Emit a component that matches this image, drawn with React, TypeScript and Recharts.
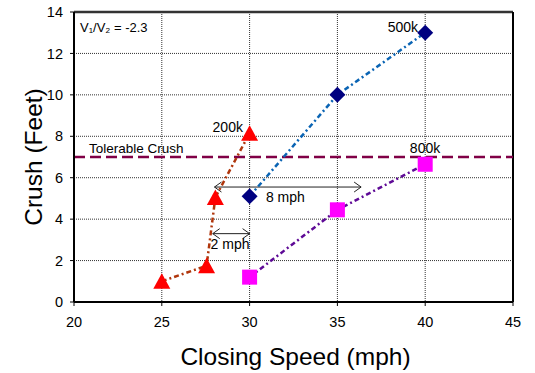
// Crush vs closing speed: three mass curves, tolerable crush line, speed-gap arrows
import {
  ComposedChart,
  Scatter,
  XAxis,
  YAxis,
  CartesianGrid,
  ReferenceLine,
  ReferenceDot,
} from 'recharts';

const xTicks = [20, 25, 30, 35, 40, 45];
const yTicks = [0, 2, 4, 6, 8, 10, 12, 14];

const speed200k = [25, 27.55, 28.05, 30];
const crush200k = [1.0, 1.75, 5.05, 8.15];
const speed500k = [30, 35, 40];
const crush500k = [5.1, 10, 13];
const speed800k = [30, 35, 40];
const crush800k = [1.2, 4.45, 6.65];

const tolerableCrush = 7;

// speed-gap arrows: [from, to, at crush]
const arrowFrom = [28, 27.9];
const arrowTo = [36.35, 30];
const arrowAt = [5.55, 3.3];

const noteText = ['200k', '500k', '800k', 'Tolerable Crush', 'V₁/V₂ = -2.3', '8 mph', '2 mph'];
const noteX = [29.62, 39.59, 39.99, 20.85, 20.34, 30.93, 27.78];
const noteY = [8.45, 13.29, 7.44, 7.39, 13.23, 5.08, 2.8];
const noteAnchor = ['end', 'end', 'middle', 'start', 'start', 'start', 'start'];
const noteSize = [14, 14, 14, 13.5, 13, 14, 14];

const zip = (xs: number[], ys: number[]) => xs.map((x, i) => ({ x, y: ys[i] }));
const data200k = zip(speed200k, crush200k);
const data500k = zip(speed500k, crush500k);
const data800k = zip(speed800k, crush800k);

const FONT = '"Liberation Sans", Arial, sans-serif';

const Triangle = (p: any) => (
  <polygon
    points={`${p.cx},${p.cy - 8} ${p.cx + 8.5},${p.cy + 7.5} ${p.cx - 8.5},${p.cy + 7.5}`}
    fill="#FF0000"
  />
);
const Diamond = (p: any) => (
  <polygon
    points={`${p.cx},${p.cy - 8} ${p.cx + 8},${p.cy} ${p.cx},${p.cy + 8} ${p.cx - 8},${p.cy}`}
    fill="#000080"
  />
);
const Square = (p: any) => (
  <rect x={p.cx - 7.5} y={p.cy - 7.5} width={15} height={15} fill="#FF00FF" />
);

const Arrow = (p: any) => {
  const { x1, y1, x2, y2 } = p;
  const c = '#222';
  return (
    <g stroke={c} strokeWidth={1} fill="none">
      <line x1={x1} y1={y1} x2={x2} y2={y2} />
      <polyline points={`${x1 + 7},${y1 - 5} ${x1},${y1} ${x1 + 7},${y1 + 5}`} />
      <polyline points={`${x2 - 7},${y2 - 5} ${x2},${y2} ${x2 - 7},${y2 + 5}`} />
    </g>
  );
};

const noteContent = (text: string, anchor: string, size: number) => (props: any) => {
  const vb = props.viewBox;
  const x = vb.x + vb.width / 2;
  const y = vb.y + vb.height / 2;
  return (
    <text
      x={x}
      y={y}
      textAnchor={anchor}
      dominantBaseline="central"
      fontSize={size}
      fontFamily={FONT}
      fill="#000"
    >
      {text}
    </text>
  );
};

const tickStyle = { fontSize: 14.5, fill: '#000', fontFamily: FONT };

export default function App() {
  return (
    <div style={{ position: 'absolute', left: 0, top: 0, background: '#fff' }}>
      <ComposedChart
        width={535}
        height={373}
        margin={{ top: 12, right: 22, bottom: 0, left: 0 }}
      >
        <CartesianGrid stroke="#333" strokeDasharray="1 1" />
        <XAxis
          type="number"
          dataKey="x"
          domain={[20, 45]}
          ticks={xTicks}
          allowDataOverflow
          height={71}
          tick={tickStyle}
          tickSize={4}
          tickMargin={11}
          tickLine={{ stroke: '#000' }}
          axisLine={{ stroke: '#000', strokeWidth: 2 }}
          label={{
            content: (props: any) => {
              const vb = props.viewBox;
              return (
                <text
                  x={vb.x + vb.width / 2 + 2}
                  y={356}
                  textAnchor="middle"
                  dominantBaseline="central"
                  fontSize={24.5}
                  fontFamily={FONT}
                  fill="#000"
                >
                  Closing Speed (mph)
                </text>
              );
            },
          }}
        />
        <YAxis
          type="number"
          dataKey="y"
          domain={[0, 14]}
          ticks={yTicks}
          allowDataOverflow
          width={74}
          tick={tickStyle}
          tickSize={4}
          tickMargin={7}
          tickLine={{ stroke: '#000' }}
          axisLine={{ stroke: '#000', strokeWidth: 2 }}
          label={{
            content: (props: any) => {
              const vb = props.viewBox;
              const cy = vb.y + vb.height / 2;
              return (
                <text
                  x={33}
                  y={cy}
                  transform={`rotate(-90 33 ${cy})`}
                  textAnchor="middle"
                  dominantBaseline="central"
                  fontSize={24.5}
                  fontFamily={FONT}
                  fill="#000"
                >
                  Crush (Feet)
                </text>
              );
            },
          }}
        />
        <ReferenceLine y={14} stroke="#333" strokeWidth={2.5} />
        <ReferenceLine x={45} stroke="#000" strokeWidth={2} />
        <ReferenceLine
          y={tolerableCrush}
          stroke="#800046"
          strokeWidth={2.5}
          strokeDasharray="11 5"
        />
        {arrowFrom.map((from, i) => (
          <ReferenceLine
            key={`arrow-${i}`}
            segment={[
              { x: from, y: arrowAt[i] },
              { x: arrowTo[i], y: arrowAt[i] },
            ]}
            shape={Arrow}
          />
        ))}
        <Scatter
          data={data200k}
          isAnimationActive={false}
          shape={Triangle}
          line={{ stroke: '#B0360C', strokeWidth: 2.5, strokeDasharray: '5 3 2 3' }}
        />
        <Scatter
          data={data500k}
          isAnimationActive={false}
          shape={Diamond}
          line={{ stroke: '#0A64B4', strokeWidth: 2.5, strokeDasharray: '5 3 2 3' }}
        />
        <Scatter
          data={data800k}
          isAnimationActive={false}
          shape={Square}
          line={{ stroke: '#5E0A96', strokeWidth: 2.5, strokeDasharray: '5 3 2 3' }}
        />
        {noteText.map((t, i) => (
          <ReferenceDot
            key={`note-${i}`}
            x={noteX[i]}
            y={noteY[i]}
            r={1}
            shape={() => <g />}
            label={{ content: noteContent(t, noteAnchor[i], noteSize[i]) }}
          />
        ))}
      </ComposedChart>
    </div>
  );
}
